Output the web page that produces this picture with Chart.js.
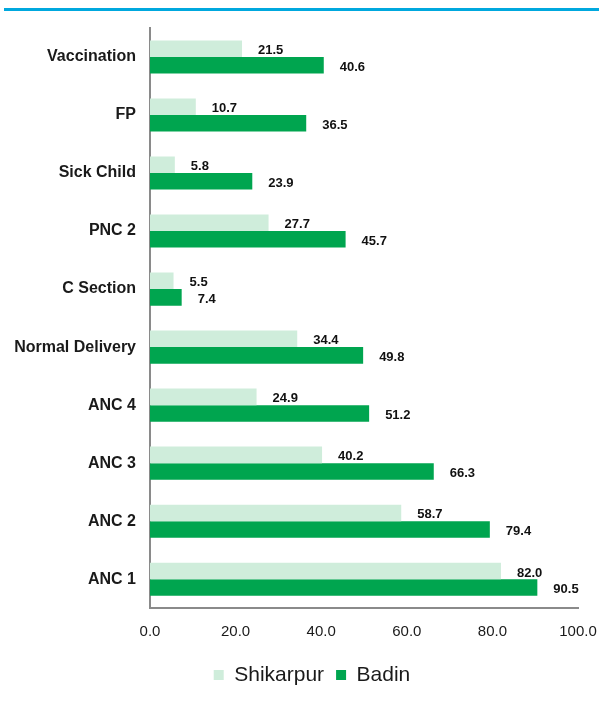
<!DOCTYPE html>
<html>
<head>
<meta charset="utf-8">
<script src="https://cdn.jsdelivr.net/npm/chart.js@4/dist/chart.umd.min.js"></script>
<style>
  html, body { margin: 0; padding: 0; background: #ffffff; }
  #wrap { width: 599px; height: 704px; position: relative; }
</style>
</head>
<body>
<div id="wrap"><canvas id="chart" width="599" height="704"></canvas></div>
<script>
// Service indicators, listed top to bottom
const categories = ["Vaccination", "FP", "Sick Child", "PNC 2", "C Section",
                    "Normal Delivery", "ANC 4", "ANC 3", "ANC 2", "ANC 1"];
const shikarpur = [21.5, 10.7, 5.8, 27.7, 5.5, 34.4, 24.9, 40.2, 58.7, 82.0];
const badin     = [40.6, 36.5, 23.9, 45.7, 7.4, 49.8, 51.2, 66.3, 79.4, 90.5];
const xTicks    = [0, 20, 40, 60, 80, 100];

const FONT = "'Liberation Sans', Arial, sans-serif";
const LIGHT = "#cfeddb";
const DARK = "#00a54f";
const AXIS = "#8a8a8a";

// Thin blue rule across the top of the figure
const topRule = {
  id: "topRule",
  beforeDraw(chart) {
    const ctx = chart.ctx;
    ctx.save();
    ctx.fillStyle = "#00a8de";
    ctx.fillRect(4, 8, chart.width - 4, 3);
    ctx.restore();
  }
};

// Value labels just past the end of each bar
const valueLabels = {
  id: "valueLabels",
  afterDatasetsDraw(chart) {
    const ctx = chart.ctx;
    ctx.save();
    ctx.font = "bold 13px " + FONT;
    ctx.fillStyle = "#111111";
    ctx.textAlign = "left";
    ctx.textBaseline = "middle";
    chart.data.datasets.forEach((ds, di) => {
      const meta = chart.getDatasetMeta(di);
      meta.data.forEach((bar, i) => {
        ctx.fillText(ds.data[i].toFixed(1), bar.x + 16, bar.y + 2);
      });
    });
    ctx.restore();
  }
};

// Nudge the legend row so it sits under the plot area
const legendShift = {
  id: "legendShift",
  beforeDraw(chart) {
    const lg = chart.legend;
    if (lg && !lg._shifted) {
      lg.left += 23;
      lg.right += 23;
      lg._shifted = true;
    }
  },
  afterUpdate(chart) {
    if (chart.legend) chart.legend._shifted = false;
  }
};

new Chart(document.getElementById("chart"), {
  type: "bar",
  data: {
    labels: categories,
    datasets: [
      { label: "Shikarpur", data: shikarpur, backgroundColor: LIGHT,
        categoryPercentage: 0.57, barPercentage: 1.0 },
      { label: "Badin", data: badin, backgroundColor: DARK,
        categoryPercentage: 0.57, barPercentage: 1.0 }
    ]
  },
  options: {
    indexAxis: "y",
    responsive: false,
    animation: false,
    layout: { padding: { top: 28, right: 21, bottom: 8.4, left: 0 } },
    scales: {
      x: {
        min: 0,
        max: 100,
        afterBuildTicks(scale) { scale.ticks = xTicks.map(v => ({ value: v })); },
        afterFit(scale) {
          scale.height = 44.4;
          scale.paddingRight = 0;
          scale.paddingLeft = 0;
        },
        grid: { display: false, drawTicks: false },
        border: { display: true, color: AXIS, width: 2 },
        ticks: {
          padding: 15,
          color: "#1a1a1a",
          font: { family: FONT, size: 15 },
          callback: v => Number(v).toFixed(1)
        }
      },
      y: {
        afterFit(scale) { scale.width = 150; },
        grid: { display: false, drawTicks: false },
        border: { display: true, color: AXIS, width: 2 },
        ticks: {
          padding: 14,
          color: "#1a1a1a",
          font: { family: FONT, size: 16, weight: "bold" }
        }
      }
    },
    plugins: {
      legend: {
        position: "bottom",
        labels: {
          boxWidth: 10,
          boxHeight: 10,
          padding: 12,
          color: "#1a1a1a",
          font: { family: FONT, size: 21 }
        }
      },
      tooltip: { enabled: false }
    }
  },
  plugins: [topRule, valueLabels, legendShift]
});
</script>
</body>
</html>
